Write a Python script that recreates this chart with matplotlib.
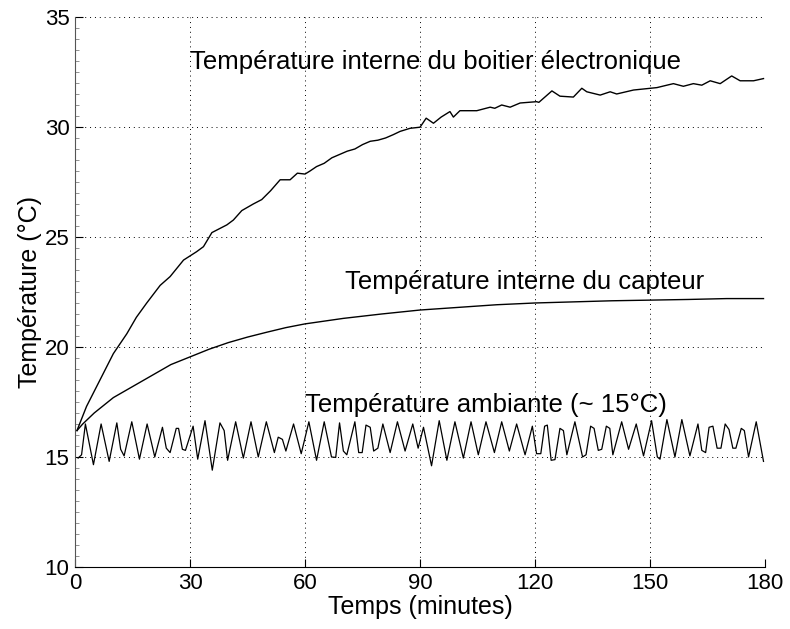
import numpy as np
import matplotlib
matplotlib.use('Agg')
import matplotlib.pyplot as plt
from matplotlib.ticker import MultipleLocator

plt.rcParams['font.family'] = ['Liberation Sans', 'DejaVu Sans']

# Température interne du boitier électronique
boitier_t = [0.5, 3, 6.5, 10, 13.5, 16, 18.7, 22.2, 24.8, 28.3, 31.7, 33.5, 35.7, 39.6,
             41.3, 43.5, 46.5, 48.7, 51, 53.5, 56.1, 58, 60, 61.3, 63, 65, 67, 69, 71, 73,
             75, 77, 79, 81, 83, 84.8, 87.4, 90, 91.6, 93.5, 95.5, 97.8, 98.7, 100.4, 104.8,
             108.3, 109.5, 111.3, 113.5, 116.1, 120.4, 121.0, 124.4, 126.5, 130, 132.2,
             133.5, 137, 139.6, 141.3, 145.7, 151.8, 154.4, 156.1, 158.7, 161.3, 163.5,
             165.7, 168.3, 171.3, 173.5, 177, 179.6]
boitier_v = [16.2, 17.3, 18.5, 19.7, 20.6, 21.35, 22.0, 22.8, 23.2, 23.95, 24.33, 24.56,
             25.2, 25.55, 25.77, 26.2, 26.5, 26.7, 27.1, 27.6, 27.6, 27.9, 27.86, 28.0, 28.2,
             28.35, 28.6, 28.75, 28.9, 29.0, 29.2, 29.35, 29.4, 29.5, 29.65, 29.8, 29.94,
             29.99, 30.4, 30.17, 30.45, 30.7, 30.45, 30.74, 30.74, 30.9, 30.85, 31.0, 30.9,
             31.09, 31.15, 31.12, 31.64, 31.4, 31.36, 31.76, 31.6, 31.45, 31.6, 31.5, 31.68,
             31.79, 31.9, 31.97, 31.85, 31.97, 31.9, 32.1, 31.97, 32.32, 32.1, 32.1, 32.2]

# Température interne du capteur
capteur_t = [0.5, 2, 5, 10, 15, 20, 25, 30, 35, 40, 45, 50, 55, 60, 70, 80, 90, 100,
             110, 120, 130, 140, 150, 160, 170, 179.6]
capteur_v = [16.2, 16.5, 17.0, 17.7, 18.2, 18.7, 19.2, 19.55, 19.9, 20.2, 20.45, 20.67,
             20.88, 21.05, 21.3, 21.5, 21.68, 21.8, 21.92, 22.0, 22.05, 22.1, 22.13, 22.16,
             22.2, 22.2]

# Température ambiante
ambiante_t = [0.8, 1.7, 2.7, 4.8, 6.8, 8.9, 10.9, 11.9, 12.8, 14.8, 16.8, 18.8, 20.8,
              22.8, 23.8, 24.8, 26.4, 27.0, 28.0, 28.8, 30.8, 32.0, 33.9, 35.8, 37.8, 38.9,
              39.8, 41.9, 43.9, 45.9, 47.8, 49.9, 52.0, 53.0, 54.1, 55.0, 57.0, 59.0, 61.0,
              63.0, 65.0, 66.9, 68.0, 69.0, 70.0, 70.9, 73.0, 74.0, 74.9, 75.9, 77.0, 77.9,
              79.0, 80.3, 82.2, 84.1, 86.1, 88.1, 89.5, 90.9, 93.0, 95.0, 97.0, 99.1, 101.3,
              103.3, 105.2, 107.2, 109.4, 111.3, 113.3, 115.2, 117.4, 119.3, 120.4, 121.5,
              122.5, 123.2, 124.2, 125.2, 126.5, 127.4, 128.3, 130.4, 132.4, 133.3, 134.5,
              135.4, 136.5, 137.4, 138.6, 139.5, 140.3, 142.6, 144.4, 146.4, 148.3, 150.4,
              151.9, 152.6, 154.4, 156.5, 158.3, 160.4, 162.5, 163.5, 164.5, 165.4, 166.4,
              167.5, 168.5, 169.6, 170.6, 171.6, 172.4, 173.8, 174.6, 175.7, 177.7, 179.6]
ambiante_v = [14.95, 15.1, 16.5, 14.65, 16.5, 14.8, 16.55, 15.35, 15.05, 16.6, 14.9, 16.5,
              15.0, 16.35, 15.4, 15.2, 16.3, 16.3, 15.35, 15.3, 16.4, 14.9, 16.65, 14.4,
              16.55, 16.2, 14.85, 16.6, 14.95, 16.6, 15.0, 16.6, 15.2, 15.9, 15.8, 15.27,
              16.5, 15.15, 16.6, 14.85, 16.6, 15.0, 14.98, 16.55, 15.27, 15.1, 16.6, 15.2,
              15.2, 16.45, 16.35, 15.27, 15.4, 16.5, 15.2, 16.6, 15.27, 16.5, 15.4, 16.35,
              14.6, 16.65, 14.85, 16.6, 14.95, 16.6, 15.1, 16.6, 15.2, 16.6, 15.27, 16.5,
              15.1, 16.4, 15.15, 15.15, 16.4, 16.45, 14.85, 14.88, 16.3, 16.2, 15.1, 16.6,
              15.0, 15.1, 16.4, 16.3, 15.3, 15.35, 16.4, 16.3, 15.1, 16.6, 15.35, 16.5,
              15.05, 16.65, 15.0, 14.9, 16.7, 15.0, 16.7, 15.05, 16.5, 15.3, 15.2, 16.35,
              16.4, 15.4, 15.4, 16.5, 16.25, 15.4, 15.4, 16.3, 16.2, 15.0, 16.6, 14.8]

fig = plt.figure(figsize=(7.9, 6.29), dpi=100)
ax = fig.add_axes([0.095, 0.0986, 0.8734, 0.8744])

ax.plot(boitier_t, boitier_v, color='black', lw=1.0)
ax.plot(capteur_t, capteur_v, color='black', lw=1.0)
ax.plot(ambiante_t, ambiante_v, color='black', lw=0.9)

ax.text(30, 32.95, 'Température interne du boitier électronique', fontsize=18.5,
        ha='left', va='center')
ax.text(70.4, 22.95, 'Température interne du capteur', fontsize=18.5,
        ha='left', va='center')
ax.text(60, 17.36, 'Température ambiante (~ 15°C)', fontsize=18.5,
        ha='left', va='center')

ax.set_xlim(0, 180)
ax.set_ylim(10, 35)
ax.set_xticks(np.arange(0, 181, 30))
ax.set_yticks(np.arange(10, 36, 5))
ax.yaxis.set_minor_locator(MultipleLocator(0.5))
ax.tick_params(axis='both', which='major', direction='in', labelsize=16, length=6, pad=4)
ax.tick_params(axis='y', which='minor', direction='in', length=3, color='gray')
ax.grid(True, which='major', linestyle=(0, (1, 4)), color='black', lw=0.7)
ax.spines['top'].set_visible(False)
ax.spines['right'].set_visible(False)
ax.spines['left'].set_color('#555555')
ax.set_xlabel('Temps (minutes)', fontsize=18, labelpad=1)
ax.set_ylabel('Température (°C)', fontsize=18, labelpad=2)

fig.savefig('out.png', dpi=100)
